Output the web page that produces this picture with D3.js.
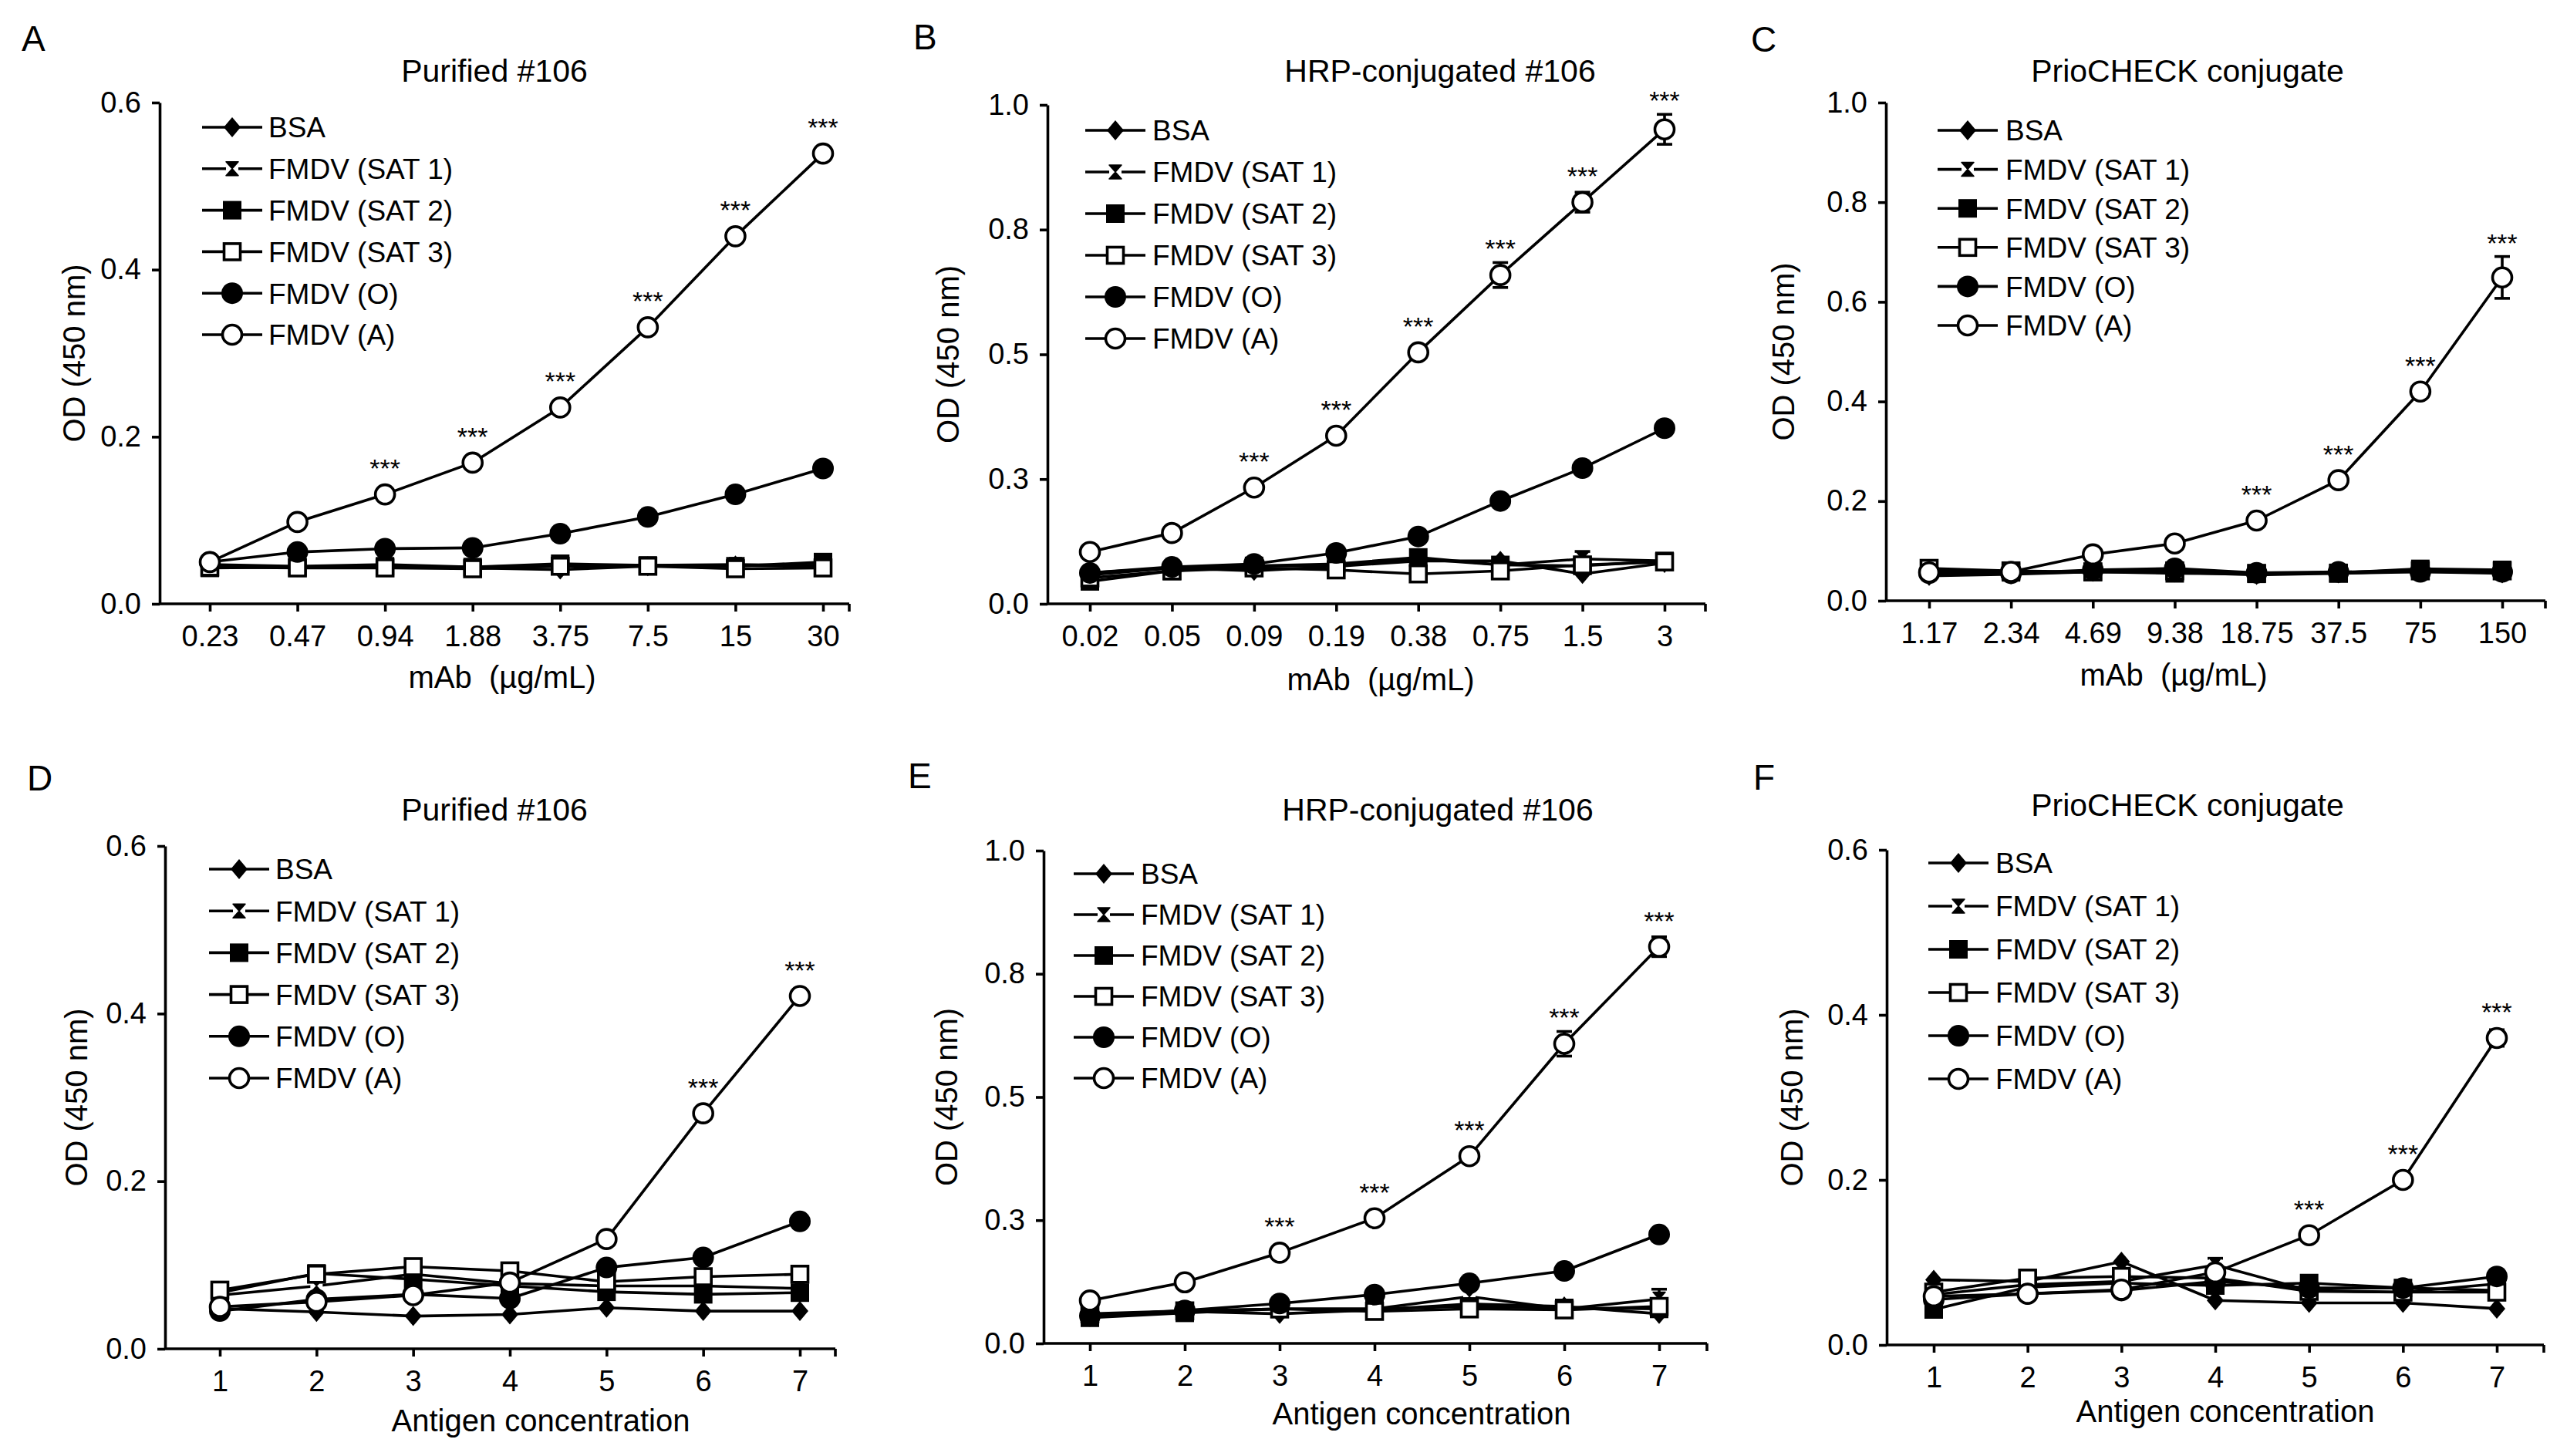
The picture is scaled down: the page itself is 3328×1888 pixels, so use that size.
<!DOCTYPE html>
<html>
<head>
<meta charset="utf-8">
<script src="https://cdn.jsdelivr.net/npm/d3@7"></script>
<style>
body { margin: 0; background: #fff; }
text { font-family: "Liberation Sans", Arial, sans-serif; fill: #000; }
</style>
</head>
<body>
<svg id="chart" width="3328" height="1888"></svg>
<script>
// Series names, in drawing order (FMDV (A) on top)
const seriesNames = ["BSA", "FMDV (SAT 1)", "FMDV (SAT 2)", "FMDV (SAT 3)", "FMDV (O)", "FMDV (A)"];
const markerTypes = ["diamond", "hourglass", "square", "squareOpen", "circle", "circleOpen"];

// x tick labels
const xTicksA = ["0.23", "0.47", "0.94", "1.88", "3.75", "7.5", "15", "30"];
const xTicksB = ["0.02", "0.05", "0.09", "0.19", "0.38", "0.75", "1.5", "3"];
const xTicksC = ["1.17", "2.34", "4.69", "9.38", "18.75", "37.5", "75", "150"];
const xTicksAg = ["1", "2", "3", "4", "5", "6", "7"];

// y ticks and their labels
const yTicks06 = [0, 0.2, 0.4, 0.6];
const yLabels06 = ["0.0", "0.2", "0.4", "0.6"];
const yTicks10q = [0, 0.25, 0.5, 0.75, 1.0];
const yLabels10q = ["0.0", "0.3", "0.5", "0.8", "1.0"];
const yTicks10 = [0, 0.2, 0.4, 0.6, 0.8, 1.0];
const yLabels10 = ["0.0", "0.2", "0.4", "0.6", "0.8", "1.0"];

// OD values, one row per series (BSA, SAT1, SAT2, SAT3, O, A)
const valsA = [
  [0.045, 0.044, 0.046, 0.043, 0.041, 0.045, 0.046, 0.046],
  [0.047, 0.045, 0.047, 0.044, 0.046, 0.046, 0.047, 0.046],
  [0.043, 0.044, 0.045, 0.044, 0.048, 0.046, 0.045, 0.050],
  [0.044, 0.043, 0.043, 0.042, 0.045, 0.045, 0.042, 0.043],
  [0.050, 0.062, 0.066, 0.067, 0.084, 0.104, 0.131, 0.162],
  [0.050, 0.098, 0.131, 0.169, 0.235, 0.331, 0.440, 0.539]
];
const valsB = [
  [0.058, 0.072, 0.066, 0.075, 0.086, 0.086, 0.060, 0.082],
  [0.062, 0.072, 0.076, 0.076, 0.090, 0.078, 0.090, 0.086],
  [0.045, 0.066, 0.076, 0.080, 0.093, 0.078, 0.076, 0.086],
  [0.052, 0.066, 0.072, 0.068, 0.060, 0.066, 0.078, 0.084],
  [0.062, 0.074, 0.080, 0.102, 0.135, 0.206, 0.272, 0.352],
  [0.104, 0.142, 0.233, 0.337, 0.504, 0.659, 0.805, 0.951]
];
const valsC = [
  [0.050, 0.053, 0.058, 0.057, 0.052, 0.055, 0.058, 0.055],
  [0.060, 0.055, 0.058, 0.060, 0.055, 0.057, 0.062, 0.060],
  [0.062, 0.057, 0.058, 0.055, 0.054, 0.056, 0.064, 0.062],
  [0.065, 0.060, 0.058, 0.060, 0.055, 0.055, 0.060, 0.060],
  [0.055, 0.055, 0.062, 0.065, 0.056, 0.058, 0.058, 0.058],
  [0.057, 0.058, 0.093, 0.115, 0.161, 0.242, 0.420, 0.649]
];
const valsD = [
  [0.048, 0.044, 0.039, 0.041, 0.049, 0.045, 0.045],
  [0.064, 0.075, 0.089, 0.078, 0.075, 0.075, 0.072],
  [0.067, 0.090, 0.083, 0.075, 0.068, 0.065, 0.067],
  [0.070, 0.089, 0.098, 0.093, 0.080, 0.086, 0.089],
  [0.045, 0.059, 0.065, 0.060, 0.097, 0.109, 0.152],
  [0.050, 0.056, 0.064, 0.079, 0.131, 0.281, 0.421]
];
const valsE = [
  [0.055, 0.065, 0.060, 0.068, 0.080, 0.075, 0.060],
  [0.058, 0.066, 0.070, 0.070, 0.095, 0.070, 0.090],
  [0.052, 0.062, 0.070, 0.070, 0.075, 0.072, 0.070],
  [0.060, 0.066, 0.070, 0.065, 0.070, 0.068, 0.075],
  [0.056, 0.067, 0.081, 0.099, 0.122, 0.147, 0.221],
  [0.087, 0.124, 0.184, 0.254, 0.380, 0.608, 0.805]
];
const valsF = [
  [0.079, 0.077, 0.101, 0.054, 0.051, 0.051, 0.044],
  [0.061, 0.073, 0.077, 0.097, 0.066, 0.064, 0.074],
  [0.043, 0.070, 0.075, 0.072, 0.075, 0.069, 0.066],
  [0.064, 0.081, 0.083, 0.081, 0.065, 0.064, 0.064],
  [0.055, 0.062, 0.066, 0.077, 0.069, 0.069, 0.083],
  [0.059, 0.062, 0.067, 0.088, 0.133, 0.200, 0.372]
];

// error bars (SD), same layout as the values; 0 = no visible bar
const errA = [[], [], [], [], [], []];
const errB = [[], [0, 0, 0, 0, 0, 0, 0.015, 0], [], [], [], [0, 0, 0, 0, 0.008, 0.025, 0.02, 0.03]];
const errC = [[], [], [], [], [], [0, 0, 0, 0, 0, 0.008, 0.01, 0.042]];
const errD = [[], [], [], [], [], []];
const errE = [[], [0, 0, 0, 0, 0, 0, 0.02], [], [], [], [0, 0, 0, 0, 0.008, 0.025, 0.02]];
const errF = [[], [0, 0, 0, 0.008, 0, 0, 0], [], [], [0, 0, 0, 0, 0, 0, 0.008], [0, 0, 0, 0, 0, 0.008, 0.01]];

// points of FMDV (A) marked *** (indexes)
const starsA = [2, 3, 4, 5, 6, 7];
const starsB = [2, 3, 4, 5, 6, 7];
const starsC = [4, 5, 6, 7];
const starsD = [5, 6];
const starsE = [2, 3, 4, 5, 6];
const starsF = [4, 5, 6];

const mabLabel = "mAb  (\u00b5g/mL)";
const agLabel = "Antigen concentration";

// panel layout (pixels)
const panels = [
  {letter: "A", title: "Purified #106", xt: xTicksA, vals: valsA, errs: errA, stars: starsA,
   yTicks: yTicks06, yLabels: yLabels06, max: 0.6, xLabel: mabLabel,
   x0: 207, x1: 1101, t0: 272, tN: 1067, yTop: 133, yBot: 783,
   lp: [28, 66], tp: [641, 106], ylx: 96, xl: [651, 878], leg: [262, 348, 165, 53.8]},
  {letter: "B", title: "HRP-conjugated #106", xt: xTicksB, vals: valsB, errs: errB, stars: starsB,
   yTicks: yTicks10q, yLabels: yLabels10q, max: 1.0, xLabel: mabLabel,
   x0: 1358, x1: 2211, t0: 1413, tN: 2158, yTop: 136, yBot: 783,
   lp: [1184, 64], tp: [1867, 106], ylx: 1229, xl: [1790, 881], leg: [1407, 1494, 169, 54]},
  {letter: "C", title: "PrioCHECK conjugate", xt: xTicksC, vals: valsC, errs: errC, stars: starsC,
   yTicks: yTicks10, yLabels: yLabels10, max: 1.0, xLabel: mabLabel,
   x0: 2445, x1: 3300, t0: 2501, tN: 3244, yTop: 133, yBot: 779,
   lp: [2270, 67], tp: [2836, 106], ylx: 2312, xl: [2818, 875], leg: [2512, 2600, 169, 50.6]},
  {letter: "D", title: "Purified #106", xt: xTicksAg, vals: valsD, errs: errD, stars: starsD,
   yTicks: yTicks06, yLabels: yLabels06, max: 0.6, xLabel: agLabel,
   x0: 214, x1: 1083, t0: 285, tN: 1037, yTop: 1097, yBot: 1749,
   lp: [35, 1025], tp: [641, 1064], ylx: 99, xl: [701, 1842], leg: [271, 357, 1127, 54.2]},
  {letter: "E", title: "HRP-conjugated #106", xt: xTicksAg, vals: valsE, errs: errE, stars: starsE,
   yTicks: yTicks10q, yLabels: yLabels10q, max: 1.0, xLabel: agLabel,
   x0: 1353, x1: 2213, t0: 1413, tN: 2151, yTop: 1103, yBot: 1742,
   lp: [1177, 1022], tp: [1864, 1064], ylx: 1227, xl: [1843, 1833], leg: [1392, 1479, 1133, 53]},
  {letter: "F", title: "PrioCHECK conjugate", xt: xTicksAg, vals: valsF, errs: errF, stars: starsF,
   yTicks: yTicks06, yLabels: yLabels06, max: 0.6, xLabel: agLabel,
   x0: 2446, x1: 3298, t0: 2507, tN: 3237, yTop: 1102, yBot: 1744,
   lp: [2273, 1024], tp: [2836, 1058], ylx: 2323, xl: [2885, 1830], leg: [2500, 2587, 1119, 56]}
];

var svg = d3.select("#chart");
var lw = 3.6;

// Drawing one marker centered at (0,0) of the given group
function drawMarker(sel, type) {
    if (type == "diamond") {
        sel.append("path").attr("d", "M0,-13L11,0L0,13L-11,0Z").attr("fill", "#000");
    } else if (type == "hourglass") {
        sel.append("rect").attr("x", -8).attr("y", -9).attr("width", 16).attr("height", 18)
            .attr("fill", "#fff");
        sel.append("path").attr("d", "M-8,-9L8,-9L0,0ZM-8,9L8,9L0,0Z")
            .attr("fill", "#000").attr("stroke", "#000").attr("stroke-width", 1.5)
            .attr("stroke-linejoin", "round");
    } else if (type == "square") {
        sel.append("rect").attr("x", -12).attr("y", -12).attr("width", 24).attr("height", 24)
            .attr("fill", "#000");
    } else if (type == "squareOpen") {
        sel.append("rect").attr("x", -10.5).attr("y", -10.5).attr("width", 21).attr("height", 21)
            .attr("fill", "#fff").attr("stroke", "#000").attr("stroke-width", lw);
    } else if (type == "circle") {
        sel.append("circle").attr("r", 14).attr("fill", "#000");
    } else {
        sel.append("circle").attr("r", 12.5).attr("fill", "#fff")
            .attr("stroke", "#000").attr("stroke-width", lw);
    }
}

panels.forEach(function (p) {
    var g = svg.append("g");
    var x = d3.scalePoint().domain(p.xt).range([p.t0, p.tN]);
    var y = d3.scaleLinear().domain([0, p.max]).range([p.yBot, p.yTop]);

    // y axis
    var ya = g.append("g")
        .attr("transform", "translate(" + p.x0 + ",0)")
        .call(d3.axisLeft(y).tickValues(p.yTicks)
            .tickFormat(function (d, i) { return p.yLabels[i]; })
            .tickSize(10).tickPadding(14).tickSizeOuter(0));

    // x axis
    var xa = g.append("g")
        .attr("transform", "translate(0," + p.yBot + ")")
        .call(d3.axisBottom(x).tickSize(10).tickPadding(18));
    xa.select(".domain").remove();
    xa.append("line").attr("x1", p.x0).attr("x2", p.x1);
    xa.append("line").attr("x1", p.x1).attr("x2", p.x1).attr("y2", 10);

    [ya, xa].forEach(function (a) {
        a.attr("font-size", null).attr("font-family", null);
        a.selectAll("path, line").attr("stroke", "#000").attr("stroke-width", lw);
        a.selectAll("text").style("font-size", "38px");
    });

    // panel letter, title, axis titles
    g.append("text").attr("x", p.lp[0]).attr("y", p.lp[1])
        .style("font-size", "46px").text(p.letter);
    g.append("text").attr("x", p.tp[0]).attr("y", p.tp[1])
        .attr("text-anchor", "middle").style("font-size", "41px").text(p.title);
    g.append("text")
        .attr("transform", "translate(" + p.ylx + "," + (p.yTop + p.yBot) / 2 + ") rotate(-90)")
        .attr("text-anchor", "middle").attr("dy", "0.35em")
        .style("font-size", "40px").text("OD (450 nm)");
    g.append("text").attr("x", p.xl[0]).attr("y", p.xl[1])
        .attr("text-anchor", "middle").attr("dy", "0.35em")
        .style("font-size", "40px").style("white-space", "pre").text(p.xLabel);

    var line = d3.line()
        .x(function (d, i) { return x(p.xt[i]); })
        .y(function (d) { return y(d); });

    // series: line, error bars, markers
    p.vals.forEach(function (vals, s) {
        var sg = g.append("g");
        sg.append("path").datum(vals).attr("d", line)
            .attr("fill", "none").attr("stroke", "#000").attr("stroke-width", lw)
            .attr("stroke-linejoin", "round");

        var err = p.errs[s];
        vals.forEach(function (v, i) {
            var e = err[i] || 0;
            if (e > 0) {
                var cx = x(p.xt[i]);
                sg.append("line").attr("x1", cx).attr("x2", cx)
                    .attr("y1", y(v + e)).attr("y2", y(v - e))
                    .attr("stroke", "#000").attr("stroke-width", lw);
                [v + e, v - e].forEach(function (w) {
                    sg.append("line").attr("x1", cx - 10).attr("x2", cx + 10)
                        .attr("y1", y(w)).attr("y2", y(w))
                        .attr("stroke", "#000").attr("stroke-width", lw);
                });
            }
        });

        sg.selectAll(".pt").data(vals).enter().append("g")
            .attr("transform", function (d, i) {
                return "translate(" + x(p.xt[i]) + "," + y(d) + ")";
            })
            .each(function () { drawMarker(d3.select(this), markerTypes[s]); });
    });

    // significance marks over FMDV (A)
    var aVals = p.vals[5];
    var aErr = p.errs[5];
    p.stars.forEach(function (i) {
        var v = aVals[i];
        var e = aErr[i] || 0;
        var by = Math.min(y(v) - 22, y(v + e) - 6);
        g.append("text").attr("x", x(p.xt[i])).attr("y", by)
            .attr("text-anchor", "middle").style("font-size", "34px").text("***");
    });

    // legend
    var lx = p.leg[0], tx = p.leg[1];
    seriesNames.forEach(function (name, s) {
        var ly = p.leg[2] + s * p.leg[3];
        g.append("line").attr("x1", lx).attr("x2", lx + 78).attr("y1", ly).attr("y2", ly)
            .attr("stroke", "#000").attr("stroke-width", lw);
        var mg = g.append("g").attr("transform", "translate(" + (lx + 39) + "," + ly + ")");
        drawMarker(mg, markerTypes[s]);
        g.append("text").attr("x", tx).attr("y", ly).attr("dy", "0.36em")
            .style("font-size", "37px").text(name);
    });
});
</script>
</body>
</html>
